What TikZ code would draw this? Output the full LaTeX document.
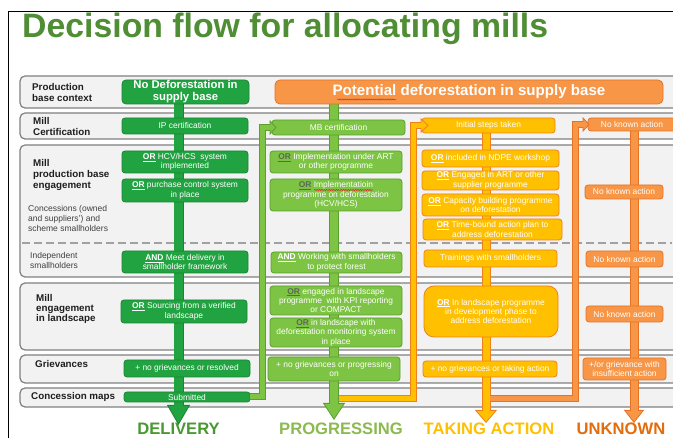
\documentclass[tikz,border=0pt]{standalone}
\usepackage{fontspec}
\setmainfont{Liberation Sans}
\usetikzlibrary{arrows.meta,decorations.pathmorphing}
\pgfdeclarelayer{bg}
\pgfsetlayers{bg,main}

\definecolor{rowfill}{RGB}{242,242,242}
\definecolor{rowdraw}{RGB}{128,128,128}
\definecolor{dashgray}{RGB}{160,160,160}
\definecolor{titlegreen}{RGB}{79,142,52}
\definecolor{labeltext}{RGB}{30,30,30}
\definecolor{sublabeltext}{RGB}{64,64,64}
\definecolor{gfill}{RGB}{34,163,66}
\definecolor{gborder}{RGB}{26,132,52}
\definecolor{lgfill}{RGB}{125,196,68}
\definecolor{lgborder}{RGB}{92,158,48}
\definecolor{afill}{RGB}{255,192,0}
\definecolor{aborder}{RGB}{240,128,30}
\definecolor{ofill}{RGB}{247,150,70}
\definecolor{oborder}{RGB}{230,114,36}
\definecolor{ordark}{RGB}{92,104,84}
\definecolor{delivgreen}{RGB}{74,152,50}
\definecolor{proggreen}{RGB}{140,186,80}
\definecolor{takeamber}{RGB}{255,192,0}
\definecolor{unkorange}{RGB}{228,108,10}
\definecolor{spellred}{RGB}{220,40,40}

\newcommand\kwor{\textbf{\underline{OR}}}
\newcommand\kword{\textcolor{ordark}{\textbf{\underline{OR}}}}
\newcommand\kwand{\textbf{\underline{AND}}}

\tikzset{
  rowbox/.style={draw=rowdraw, fill=rowfill, line width=1.2pt, rounded corners=5pt},
  colbox/.style={rounded corners=3pt, line width=0.8pt, text=white, align=center,
    inner sep=0pt, font=\fontsize{8.4}{9.4}\selectfont},
  gbox/.style={colbox, draw=gborder, fill=gfill},
  lgbox/.style={colbox, draw=lgborder, fill=lgfill},
  abox/.style={colbox, draw=aborder, fill=afill},
  obox/.style={colbox, draw=oborder, fill=ofill},
  sz/.style 2 args={minimum width=#1, minimum height=#2},
  lbl/.style={anchor=base west, inner sep=0pt, align=left, text=labeltext,
    font=\bfseries\fontsize{9.8}{11}\selectfont},
  sublbl/.style={anchor=base west, inner sep=0pt, align=left, text=sublabeltext,
    font=\fontsize{8.5}{9.8}\selectfont},
  outcome/.style={anchor=base, inner sep=0pt, font=\bfseries\fontsize{16.6}{18}\selectfont},
  squiggle/.style={spellred, line width=0.5pt,
    decorate, decoration={snake, amplitude=0.6pt, segment length=2.4pt}},
  % band with outline: border, fill, outer width, inner width, head length, head width, inner shorten
  flow/.style n args={7}{draw=#1, line width=#3,
    -{Triangle[length=#5, width=#6, line width=0.8pt, fill=#2]},
    postaction={draw=#2, line width=#4, -, shorten >=#7}},
}

\begin{document}
\begin{tikzpicture}[x=1pt, y=-1pt]
\useasboundingbox (0,0) rectangle (673,438);
\clip (0,0) rectangle (673,438);

\begin{pgfonlayer}{bg}
\fill[white] (0,0) rectangle (673,438);
% row bands
\draw[rowbox] (20,76) rectangle (700,108);
\draw[rowbox] (20,113) rectangle (700,139);
\draw[rowbox] (20,145) rectangle (700,277);
\draw[rowbox] (20,283) rectangle (700,350);
\draw[rowbox] (20,355) rectangle (700,383);
\draw[rowbox] (20,388) rectangle (700,407);
\draw[dashgray, line width=2pt, dash pattern=on 8pt off 4pt] (22,243) -- (672,243);
\end{pgfonlayer}

% slide frame and title
\draw[black, line width=1pt] (8,438) -- (8,12) -- (680,12);
\node[anchor=base west, inner sep=0pt, text=titlegreen,
  font=\bfseries\fontsize{33.8}{40}\selectfont] (title) at (22,38)
  {Decision flow for allocating mills};

% row labels (anchored at the baseline of their last line)
\node[lbl] (l1) at (32,102) {Production\\base context};
\node[lbl] (l2) at (33,136) {Mill\\Certification};
\node[lbl] (l3) at (33,188.5) {Mill\\production base\\engagement};
\node[sublbl] (l3b) at (28,231.5) {Concessions (owned\\and suppliers') and\\scheme smallholders};
\node[sublbl] (l3c) at (30,268.5) {Independent\\smallholders};
\node[lbl, font=\bfseries\fontsize{9.8}{10.3}\selectfont] (l4) at (36,322) {Mill\\engagement\\in landscape};
\node[lbl] (l5) at (35,367.5) {Grievances};
\node[lbl] (l6) at (31,399.3) {Concession maps};

% headers
\node[gbox, sz={127}{24}, rounded corners=4pt, font=\bfseries\fontsize{11.3}{12}\selectfont]
  (gh) at (185.5,92) {No Deforestation in\\supply base};
\node[obox, sz={388}{24}, rounded corners=5pt, font=\bfseries\fontsize{15.1}{17}\selectfont]
  (ph) at (469,92) {Potential deforestation in supply base};

% tips and junctions of the flows
\coordinate (gtip) at (178.5,425);
\coordinate (lgtip) at (334,420);
\coordinate (atip) at (486,423);
\coordinate (utip) at (634,423);
\coordinate (lgbend) at (262.5,0);
\coordinate (abend) at (413,0);
\coordinate (obend) at (575.5,0);

% DELIVERY column
\node[gbox, sz={126}{16}] (ip) at (185,126) {IP certification};
\node[gbox, sz={126}{22}] (g1) at (185,162) {\kwor{} HCV/HCS\ \ system\\implemented};
\node[gbox, sz={126}{23}] (g2) at (185,190.5) {\kwor{} purchase control system\\in place};
\node[gbox, sz={126}{22}] (g3) at (185,262) {\kwand{} Meet delivery in\\smallholder framework};
\node[gbox, sz={126}{23}] (g4) at (184,311.5) {\kwor{} Sourcing from a verified\\landscape};
\node[gbox, sz={126}{17}] (g5) at (187,368.5) {+ no grievances or resolved};
\node[gbox, sz={126}{10}] (g6) at (187,397) {Submitted};

% PROGRESSING column
\node[lgbox, sz={133}{15}] (mb) at (338.5,127.5) {MB certification};
\node[lgbox, sz={132}{22}] (p1) at (336,162) {\kword{} Implementation under ART\\or other programme};
\node[lgbox, sz={132}{32}] (p2) at (336,195) {\kword{} Implementatioin\\programme on deforestation\\(HCV/HCS)};
\node[lgbox, sz={131}{21}] (p3) at (336.5,262.5) {\kwand{} Working with smallholders\\to protect forest};
\node[lgbox, sz={132}{29}] (p4) at (336,300.5) {\kword{} engaged in landscape\\programme\ \ with KPI reporting\\or COMPACT};
\node[lgbox, sz={132}{29}] (p5) at (336,332.5) {\kword{} in landscape with\\deforestation monitoring system\\in place};
\node[lgbox, sz={132}{24}] (p6) at (334,369) {+ no grievances or progressing\\on};

% TAKING ACTION column
\node[abox, sz={133}{15}] (a0) at (488.5,125.5) {Initial steps taken};
\node[abox, sz={137}{17}] (a1) at (490.5,158.5) {\kwor{} included in NDPE workshop};
\node[abox, sz={137}{19}] (a2) at (490.5,180.5) {\kwor{} Engaged in ART or other\\supplier programme};
\node[abox, sz={137}{22}] (a3) at (490.5,205) {\kwor{} Capacity building programme\\on deforestation};
\node[abox, sz={139}{21}] (a4) at (492.5,229.5) {\kwor{} Time-bound action plan to\\address deforestation};
\node[abox, sz={133}{17}] (a5) at (490.5,258.5) {Trainings with smallholders};
\node[abox, sz={134}{51}, rounded corners=10pt] (a6) at (491,311.5) {\kwor{} In landscape programme\\in development phase to\\address deforestation};
\node[abox, sz={134}{16}] (a7) at (490,369) {+ no grievances or taking action};

% UNKNOWN column
\node[obox, sz={88}{13}] (u0) at (632,124.5) {No known action};
\node[obox, sz={78}{14}] (u1) at (624,192) {No known action};
\node[obox, sz={77}{16}] (u2) at (624.5,259) {No known action};
\node[obox, sz={77}{16}] (u3) at (624.5,314) {No known action};
\node[obox, sz={83}{22}] (u4) at (624.5,369) {+/or grievance with\\insufficient action};

% spell-check marks under two words
\draw[squiggle] (337,99.5) -- (396,99.5);
\draw[squiggle] (314,190) -- (373,190);

% vertical shafts, behind the boxes
\begin{pgfonlayer}{bg}
\draw[flow={gborder}{gfill}{10pt}{8.6pt}{20pt}{23pt}{19pt}] (gtip |- gh.south) -- (gtip);
\draw[flow={lgborder}{lgfill}{10pt}{8pt}{17pt}{22pt}{15.5pt}] (lgtip |- ph.south) -- (lgtip);
\draw[flow={aborder}{afill}{9pt}{7pt}{13pt}{22pt}{11.5pt}] (atip |- a0.south) -- (atip);
\draw[flow={oborder}{ofill}{9pt}{7pt}{13pt}{20pt}{11.5pt}] (utip |- u0.south) -- (utip);
\end{pgfonlayer}

% fall-through flows to the next column
\coordinate (lgjoin) at (338.5,398.5);
\coordinate (ajoin) at (490,398.5);
\draw[flow={lgborder}{lgfill}{7pt}{5pt}{7pt}{15pt}{5.5pt}]
  (g6.east) -| (lgbend |- mb.west) -- ([xshift=5pt]mb.west);
\draw[flow={aborder}{afill}{7pt}{5pt}{8pt}{15pt}{6.5pt}]
  (lgjoin) -| (abend |- a0.west) -- ([xshift=7pt]a0.west);
\draw[flow={oborder}{ofill}{7pt}{5pt}{7pt}{15pt}{5.5pt}]
  (ajoin) -| (obend |- u0.west) -- ([xshift=2pt]u0.west);

% outcomes
\node[outcome, text=delivgreen] (o1) at (178.5,434.5) {DELIVERY};
\node[outcome, text=proggreen] (o2) at (341,434.5) {PROGRESSING};
\node[outcome, text=takeamber] (o3) at (489,434.5) {TAKING ACTION};
\node[outcome, text=unkorange] (o4) at (621,434.5) {UNKNOWN};
\end{tikzpicture}
\end{document}
